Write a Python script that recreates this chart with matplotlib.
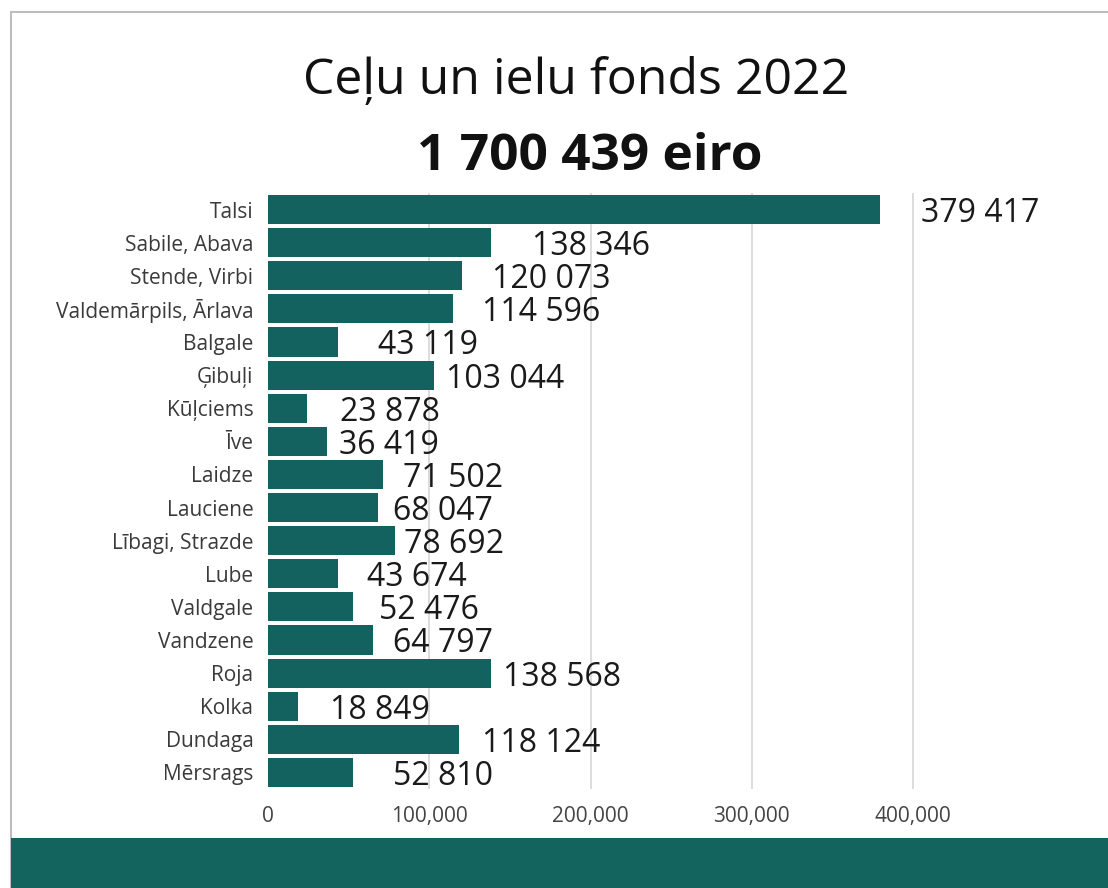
import matplotlib.pyplot as plt
import matplotlib.ticker as ticker
from matplotlib.patches import Rectangle

plt.rcParams['font.family'] = ['Open Sans', 'DejaVu Sans']

# data
places = ['Talsi', 'Sabile, Abava', 'Stende, Virbi', 'Valdemārpils, Ārlava',
          'Balgale', 'Ģibuļi', 'Kūļciems', 'Īve', 'Laidze', 'Lauciene',
          'Lībagi, Strazde', 'Lube', 'Valdgale', 'Vandzene', 'Roja', 'Kolka',
          'Dundaga', 'Mērsrags']
amounts = [379417, 138346, 120073, 114596, 43119, 103044, 23878, 36419,
           71502, 68047, 78692, 43674, 52476, 64797, 138568, 18849,
           118124, 52810]
title = 'Ceļu un ielu fonds 2022'
total_text = '1 700 439 eiro'

# gap between bar end and its label, in pixels (labels are placed by hand in the original)
label_gap = [41, 41, 30, 29, 40, 12, 33, 12, 20, 15, 9, 29, 26, 20, 12, 32, 23, 40]

teal = '#14625f'

fig = plt.figure(figsize=(11.08, 8.88), dpi=100)
ax = fig.add_axes([268 / 1108, 1 - 789 / 888, 758 / 1108, 596 / 888])

ypos = list(range(len(places)))
ax.barh(ypos, amounts, height=0.88, color=teal, zorder=3)
ax.set_ylim(len(places) - 0.5, -0.5)
ax.set_xlim(0, 470000)

ax.set_yticks(ypos)
ax.set_yticklabels(places, fontsize=15, color='#3a3a3a')
ax.set_xticks([0, 100000, 200000, 300000, 400000])
ax.xaxis.set_major_formatter(ticker.FuncFormatter(lambda v, p: f'{int(v):,}'))
ax.tick_params(axis='x', labelsize=15, labelcolor='#444444', length=0, pad=12)
ax.tick_params(axis='y', length=0, pad=10.5)

ax.grid(axis='x', color='#dcdcdc', linewidth=1.4, zorder=0)
ax.yaxis.grid(False)
for s in ax.spines.values():
    s.set_visible(False)
ax.get_xgridlines()[0].set_visible(False)

for i, (v, g) in enumerate(zip(amounts, label_gap)):
    txt = f'{v:,}'.replace(',', ' ')
    ax.annotate(txt, xy=(v, i), xytext=(g * 0.72, 0), textcoords='offset points',
                ha='left', va='center_baseline', fontsize=23, color='#1a1a1a', zorder=4)

fig.text(576 / 1108, 1 - 94 / 888, title, ha='center', va='baseline',
         fontsize=36, color='#111111')
fig.text(590 / 1108, 1 - 170 / 888, total_text, ha='center', va='baseline',
         fontsize=37, fontweight='bold', color='#111111')

# frame and bottom band
fig.add_artist(Rectangle((11 / 1108, -0.1), 1.2, 1.1 - 12.5 / 888,
                         transform=fig.transFigure, fill=False,
                         edgecolor='#bdbdbd', linewidth=1.5))
fig.add_artist(Rectangle((11 / 1108, 0), 1.0, 50 / 888, transform=fig.transFigure,
                         facecolor='#13635f', edgecolor='none'))

fig.savefig('out.png', dpi=100)
